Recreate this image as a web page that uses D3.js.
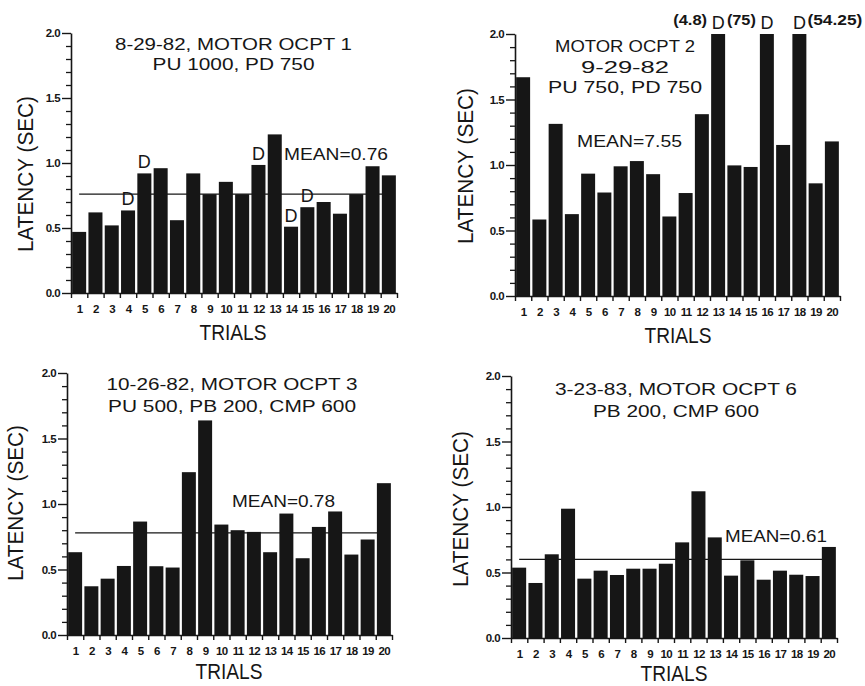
<!DOCTYPE html>
<html><head><meta charset="utf-8">
<script src="https://cdn.jsdelivr.net/npm/d3@7"></script>
<style>
body{margin:0;background:#fff;}
svg{display:block;}
text{font-family:"Liberation Sans",Arial,sans-serif;fill:#161616;}
</style></head><body>
<svg id="chart" width="865" height="686"></svg>
<script>
// ---------- data ----------
const trials = [1,2,3,4,5,6,7,8,9,10,11,12,13,14,15,16,17,18,19,20];
const yMajorTicks = [0.0,0.5,1.0,1.5,2.0];
const yMinorTicks = [0.1,0.2,0.3,0.4,0.6,0.7,0.8,0.9,1.1,1.2,1.3,1.4,1.6,1.7,1.8,1.9];

const latency1 = [0.47,0.62,0.52,0.635,0.92,0.96,0.56,0.92,0.76,0.855,0.76,0.985,1.22,0.51,0.66,0.70,0.61,0.76,0.975,0.905];
const latency2 = [1.67,0.584,1.314,0.625,0.934,0.79,0.99,1.03,0.93,0.607,0.786,1.388,4.8,0.997,0.985,75,1.153,54.25,0.86,1.18];
const latency3 = [0.632,0.372,0.43,0.527,0.866,0.525,0.515,1.243,1.638,0.843,0.80,0.787,0.632,0.927,0.586,0.825,0.943,0.614,0.729,1.159];
const latency4 = [0.537,0.42,0.639,0.987,0.453,0.514,0.481,0.529,0.529,0.567,0.73,1.12,0.768,0.476,0.593,0.445,0.514,0.483,0.473,0.695];

const titles1 = ["8-29-82, MOTOR OCPT 1","PU 1000, PD 750"];
const titles2 = ["MOTOR OCPT 2","9-29-82","PU 750, PD 750"];
const titles3 = ["10-26-82, MOTOR OCPT 3","PU 500, PB 200, CMP 600"];
const titles4 = ["3-23-83, MOTOR OCPT 6","PB 200, CMP 600"];

const means = [0.76, 7.55, 0.78, 0.61];
const meanLineLevels = [0.76, null, 0.78, 0.60];

const dTrials1 = [4,5,12,14,15];
const dTrials2 = [13,16,18];
const dTrials3 = [];
const dTrials4 = [];

const offScaleTrials2 = [13,16,18];
const offScaleLabels2 = ["(4.8)","(75)","(54.25)"];

const yLabel = "LATENCY (SEC)";
const xLabel = "TRIALS";

// ---------- layout (positions only) ----------
const panels = [
  {values:latency1, titles:titles1, mean:means[0], meanLine:meanLineLevels[0], dTrials:dTrials1, notes:[],
   x0:71, x1:397, yTop:33, yBot:293,
   titleX:233.5, titleY:[50,70], titleLen:[237,162],
   meanX:284, meanY:160, meanLen:104,
   yLabX:33, yLabY:174, xLabX:233, xLabY:340},
  {values:latency2, titles:titles2, mean:means[1], meanLine:meanLineLevels[1], dTrials:dTrials2,
   notes:offScaleTrials2.map((t,i)=>({trial:t, text:offScaleLabels2[i], side: i<2 ? "left":"right", len:[34,29,55][i]})),
   x0:515, x1:840, yTop:34, yBot:296,
   titleX:625, titleY:[52,73,93], titleLen:[140,88,154],
   meanX:577, meanY:147, meanLen:105,
   yLabX:473, yLabY:166, xLabX:678, xLabY:343},
  {values:latency3, titles:titles3, mean:means[2], meanLine:meanLineLevels[2], dTrials:dTrials3, notes:[],
   x0:67, x1:392, yTop:373, yBot:635,
   titleX:232, titleY:[390,412], titleLen:[251,248],
   meanX:232, meanY:507, meanLen:103,
   yLabX:23, yLabY:503, xLabX:229, xLabY:679},
  {values:latency4, titles:titles4, mean:means[3], meanLine:meanLineLevels[3], dTrials:dTrials4, notes:[],
   x0:511, x1:837, yTop:376, yBot:638,
   titleX:676, titleY:[395,417], titleLen:[242,166],
   meanX:725, meanY:542, meanLen:102,
   yLabX:468, yLabY:509, xLabX:674, xLabY:681}
];

const ink = "#161616";
const svg = d3.select("#chart");
svg.append("rect").attr("width",865).attr("height",686).attr("fill","#fff");

panels.forEach(p => {
  const g = svg.append("g");
  const yMax = 2.0;
  const y = d3.scaleLinear().domain([0, yMax]).range([p.yBot, p.yTop]);
  const x = d3.scaleLinear().domain([0.5, 20.5]).range([p.x0, p.x1]);
  const half = 0.43;

  // mean line (behind bars)
  if (p.meanLine !== null) {
    g.append("line")
      .attr("x1", x(1)).attr("x2", x(20))
      .attr("y1", y(p.meanLine)).attr("y2", y(p.meanLine))
      .attr("stroke", ink).attr("stroke-width", 1.3);
  }

  // bars
  g.selectAll("rect.bar").data(trials).join("rect")
    .attr("class","bar")
    .attr("x", t => x(t - half))
    .attr("width", t => x(t + half) - x(t - half))
    .attr("y", (t,i) => y(Math.min(p.values[i], yMax)))
    .attr("height", (t,i) => p.yBot - y(Math.min(p.values[i], yMax)))
    .attr("fill", ink);

  // y axis major
  const yAx = g.append("g").attr("transform", `translate(${p.x0},0)`)
    .call(d3.axisLeft(y).tickValues(yMajorTicks).tickSize(9).tickSizeOuter(0).tickPadding(2)
      .tickFormat(d3.format(".1f")));
  yAx.select(".domain").attr("stroke", ink).attr("stroke-width", 1.6);
  yAx.selectAll(".tick line").attr("stroke", ink).attr("stroke-width", 1.4);
  yAx.selectAll(".tick text").attr("font-family",'"Liberation Sans",Arial,sans-serif')
    .attr("font-size", 11.5).attr("font-weight","bold").attr("fill", ink).attr("letter-spacing", -0.6);

  // y axis minor
  const yMin = g.append("g").attr("transform", `translate(${p.x0},0)`)
    .call(d3.axisLeft(y).tickValues(yMinorTicks).tickSize(5).tickSizeOuter(0).tickFormat(""));
  yMin.select(".domain").remove();
  yMin.selectAll(".tick line").attr("stroke", ink).attr("stroke-width", 1.3);

  // x axis with boundary ticks
  const edges = trials.map(t => t - 0.5).concat([20.5]);
  const xAx = g.append("g").attr("transform", `translate(0,${p.yBot})`)
    .call(d3.axisBottom(x).tickValues(edges).tickSize(5).tickSizeOuter(0).tickFormat(""));
  xAx.select(".domain").attr("stroke", ink).attr("stroke-width", 1.6);
  xAx.selectAll(".tick line").attr("stroke", ink).attr("stroke-width", 1.4);

  // x labels
  const xLab = g.append("g").attr("transform", `translate(0,${p.yBot})`)
    .call(d3.axisBottom(x).tickValues(trials).tickSize(0).tickPadding(12).tickFormat(d3.format("d")));
  xLab.select(".domain").remove();
  xLab.selectAll(".tick text").attr("font-family",'"Liberation Sans",Arial,sans-serif')
    .attr("font-size", 11.5).attr("font-weight","bold").attr("fill", ink).attr("letter-spacing", -0.6);

  // titles
  p.titles.forEach((t,i) => {
    g.append("text").attr("x", p.titleX).attr("y", p.titleY[i])
      .attr("text-anchor","middle").attr("font-size", 17)
      .attr("textLength", p.titleLen[i]).attr("lengthAdjust","spacingAndGlyphs")
      .text(t);
  });

  // mean text
  g.append("text").attr("x", p.meanX).attr("y", p.meanY)
    .attr("font-size", 17).attr("textLength", p.meanLen).attr("lengthAdjust","spacingAndGlyphs")
    .text("MEAN=" + d3.format(".2f")(p.mean));

  // D markers
  g.selectAll("text.d").data(p.dTrials).join("text").attr("class","d")
    .attr("x", t => x(t))
    .attr("y", t => y(Math.min(p.values[t-1], yMax)) - 5)
    .attr("text-anchor","middle").attr("font-size", 18)
    .text("D");

  // off-scale notes
  p.notes.forEach(n => {
    const cx = x(n.trial);
    g.append("text")
      .attr("x", n.side === "left" ? cx - 11 - n.len : cx + 8)
      .attr("y", y(yMax) - 9)
      .attr("font-size", 14).attr("font-weight","600")
      .attr("textLength", n.len).attr("lengthAdjust","spacingAndGlyphs")
      .text(n.text);
  });

  // axis titles
  g.append("text")
    .attr("transform", `translate(${p.yLabX},${p.yLabY}) rotate(-90)`)
    .attr("text-anchor","middle").attr("font-size", 22)
    .attr("textLength", 156).attr("lengthAdjust","spacingAndGlyphs")
    .text(yLabel);
  g.append("text")
    .attr("x", p.xLabX).attr("y", p.xLabY)
    .attr("text-anchor","middle").attr("font-size", 22)
    .attr("textLength", 67).attr("lengthAdjust","spacingAndGlyphs")
    .text(xLabel);
});
</script>
</body></html>
